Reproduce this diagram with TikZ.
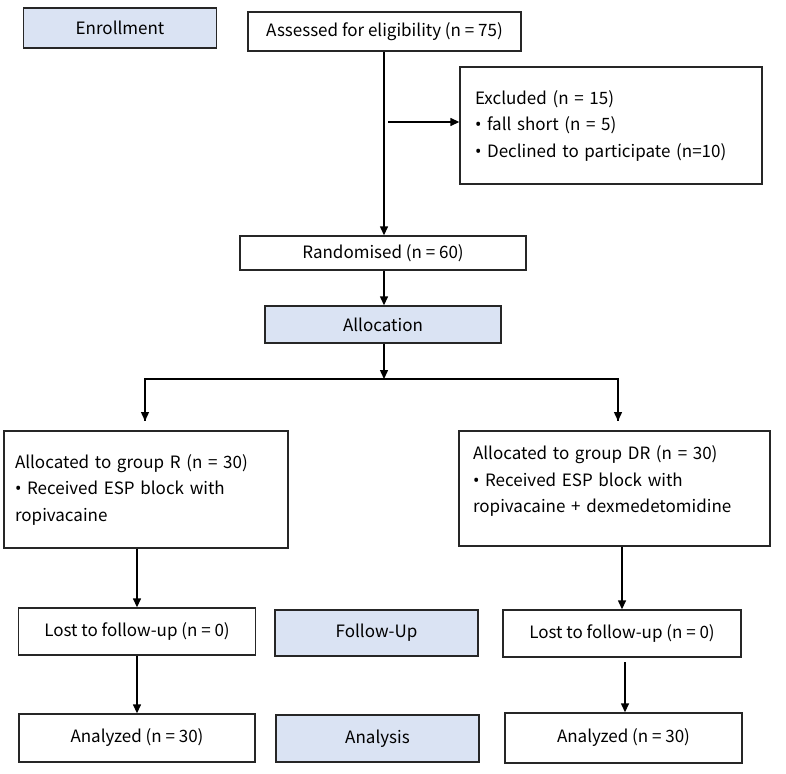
\documentclass[tikz,border=0pt]{standalone}
\usepackage{fontspec}
\setmainfont{Noto Sans CJK SC}
\newfontfamily\bulfont{Noto Sans}
\newcommand{\bul}{{\bulfont\char"2022}\ }
\usetikzlibrary{arrows.meta}
\definecolor{bluefill}{HTML}{DAE3F3}
\definecolor{edge}{HTML}{262626}
\begin{document}
\begin{tikzpicture}[x=1pt,y=-1pt,
  box/.style={draw=edge, line width=1.4pt, inner sep=0pt, font=\fontsize{17}{21}\selectfont},
  bluebox/.style={box, fill=bluefill},
  listbox/.style={box, align=left, font=\fontsize{17}{26.5}\selectfont},
  arr/.style={draw=black, line width=1.4pt, -{Triangle[length=9pt,width=8pt]}},
  plain/.style={draw=black, line width=1.4pt}]
\useasboundingbox (0,0) rectangle (786,773);
\fill[white] (0,0) rectangle (786,773);

\node[bluebox, minimum width=193pt, minimum height=40pt] (enr) at (120,28) {Enrollment};
\node[box, minimum width=273pt, minimum height=39pt] (ass) at (384.5,31.5) {Assessed for eligibility (n = 75)};
\node[listbox, minimum width=302pt, minimum height=117pt, text width=272pt] (exc) at (611,125.5)
  {Excluded (n = 15)\\ \bul fall short (n = 5)\\ \bul Declined to participate (n=10)};
\node[box, minimum width=286pt, minimum height=34pt] (ran) at (383,253) {Randomised (n = 60)};
\node[bluebox, minimum width=236pt, minimum height=37pt] (alo) at (383,324.5) {Allocation};

\node[listbox, minimum width=284pt, minimum height=117pt, text width=262pt] (gr) at (146,489.5)
  {Allocated to group R (n = 30)\\ \bul Received ESP block with\\ ropivacaine};
\node[listbox, minimum width=311pt, minimum height=115pt, text width=283pt] (gdr) at (614.5,488.5)
  {Allocated to group DR (n = 30)\\ \bul Received ESP block with\\ ropivacaine + dexmedetomidine\\[-8.5pt]\mbox{}};

\node[box, minimum width=237pt, minimum height=47pt] (l1) at (137,631.5) {Lost to follow-up (n = 0)};
\node[bluebox, minimum width=203pt, minimum height=46pt] (fu) at (376.5,633) {Follow-Up};
\node[box, minimum width=238pt, minimum height=47pt] (l2) at (622,633.5) {Lost to follow-up (n = 0)};

\node[box, minimum width=236pt, minimum height=48pt] (a1) at (137,738) {Analyzed (n = 30)};
\node[bluebox, minimum width=203pt, minimum height=47pt] (an) at (377.5,738.5) {Analysis};
\node[box, minimum width=237pt, minimum height=50pt] (a2) at (623.5,738) {Analyzed (n = 30)};

% connectors
\coordinate (exs) at (388,122);
\coordinate (brc) at (384,379);
\coordinate (tl) at (145,421);
\coordinate (tr) at (618,421);
\coordinate (r2s) at (625,662);

\draw[arr] (ass.south -| brc) -- (ran.north -| brc);
\draw[arr] (exs) -- (exs -| exc.west);
\draw[arr] (ran.south -| brc) -- (alo.north -| brc);
\draw[arr] (alo.south -| brc) -- (brc);
\draw[plain] (brc) -| (tl);
\draw[arr] (tl |- brc) -- (tl);
\draw[plain] (brc) -| (tr);
\draw[arr] (tr |- brc) -- (tr);
\draw[arr] (gr.south -| l1.north) -- (l1.north);
\draw[arr] (l1.south) -- (a1.north);
\draw[arr] (gdr.south -| l2.north) -- (l2.north);
\draw[arr] (r2s) -- (r2s |- a2.north);
\end{tikzpicture}
\end{document}
